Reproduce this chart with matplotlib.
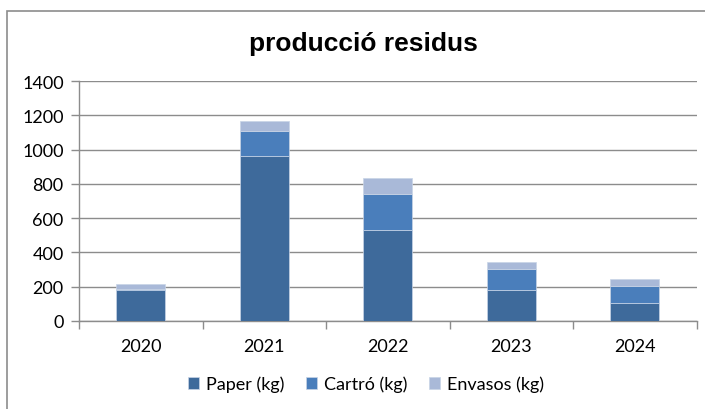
import numpy as np
import matplotlib.pyplot as plt
from matplotlib.patches import Rectangle

# dades
anys = ['2020', '2021', '2022', '2023', '2024']
paper = [178, 965, 532, 180, 105]
cartro = [9, 146, 211, 124, 102]
envasos = [26, 55, 92, 43, 37]

colors = ['#3E6A9B', '#4A7EBB', '#A9B9D8']
labels = ['Paper (kg)', 'Cartró (kg)', 'Envasos (kg)']

plt.rcParams['font.family'] = ['Lato', 'DejaVu Sans']

fig = plt.figure(figsize=(7.05, 4.10), dpi=100)
ax = fig.add_axes([79 / 705, (410 - 322) / 410, (696.5 - 79) / 705, 240 / 410])

# marc del gràfic
fig.patches.append(Rectangle((7 / 705, -0.05), 1.0, (410 - 12) / 410 + 0.05,
                             transform=fig.transFigure, fill=False,
                             edgecolor='#8C8C8C', linewidth=1.2))

x = np.arange(len(anys))
w = 0.4
bottom = np.zeros(len(anys))
for vals, c, lab in zip([paper, cartro, envasos], colors, labels):
    ax.bar(x, vals, w, bottom=bottom, color=c, edgecolor='#C8D4E6',
           linewidth=0.5, label=lab, zorder=3)
    bottom += np.array(vals)

ax.set_xlim(-0.5, len(anys) - 0.5)
ax.set_ylim(0, 1400)
ax.set_yticks(range(0, 1401, 200))
ax.yaxis.grid(True, color='#8C8C8C', linewidth=1.0, zorder=0)

ax.set_xticks(x)
ax.set_xticklabels(anys)
ax.set_xticks(np.arange(-0.5, len(anys), 1.0), minor=True)
ax.tick_params(axis='x', which='major', length=0, pad=12, labelsize=13)
ax.tick_params(axis='x', which='minor', length=6, color='#8C8C8C', width=1)
ax.tick_params(axis='y', length=6, color='#8C8C8C', width=1, labelsize=13, pad=5)

for s in ['top', 'right']:
    ax.spines[s].set_visible(False)
for s in ['left', 'bottom']:
    ax.spines[s].set_color('#8C8C8C')
    ax.spines[s].set_linewidth(1)

fig.text(363 / 705, 1 - 44 / 410, 'producció residus', ha='center', va='center',
         fontsize=19, fontweight='bold', family=['Liberation Sans', 'DejaVu Sans'])

fig.legend(loc='center', bbox_to_anchor=(366 / 705, 1 - 385 / 410), ncol=3,
           frameon=False, fontsize=13, handlelength=0.6, handleheight=0.6,
           handletextpad=0.4, columnspacing=1.2)

fig.savefig('out.png', dpi=100)
